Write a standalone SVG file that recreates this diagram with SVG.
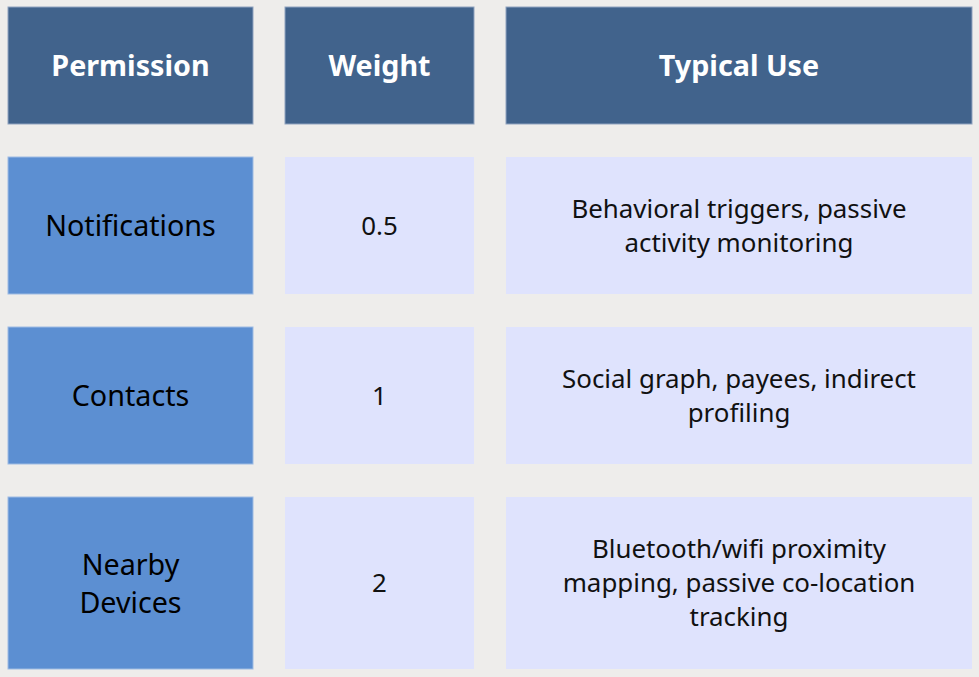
<svg xmlns="http://www.w3.org/2000/svg" width="979" height="677" viewBox="0 0 979 677">
<style>
.hd{fill:#41638c;stroke:#8fa3bf;stroke-width:1}
.c1{fill:#5c8fd2;stroke:#9dbbe3;stroke-width:1}
.lt{fill:#dfe3fd}
.ht{font-family:"Noto Sans","Open Sans",sans-serif;font-weight:bold;font-size:28.7px;fill:#ffffff;text-anchor:middle;dominant-baseline:central}
.t1{font-family:"Noto Sans","Open Sans",sans-serif;font-size:28.7px;fill:#000000;text-anchor:middle;dominant-baseline:central}
.t2{font-family:"Noto Sans","Open Sans",sans-serif;font-size:25.9px;fill:#111111;text-anchor:middle;dominant-baseline:central}
</style>
<rect width="979" height="677" fill="#eeedeb"/>
<g id="h1"><rect class="hd" x="8" y="7" width="245" height="117"/><text class="ht" x="130.5" y="64.5">Permission</text></g>
<g id="h2"><rect class="hd" x="285" y="7" width="189" height="117"/><text class="ht" x="379.5" y="64.5">Weight</text></g>
<g id="h3"><rect class="hd" x="506" y="7" width="466" height="117"/><text class="ht" x="739" y="64.5">Typical Use</text></g>

<g id="r1c1"><rect class="c1" x="8" y="157" width="245" height="137"/><text class="t1" x="130.5" y="224.5">Notifications</text></g>
<g id="r1c2"><rect class="lt" x="285" y="157" width="189" height="137"/><text class="t2" x="379.5" y="224.5">0.5</text></g>
<g id="r1c3"><rect class="lt" x="506" y="157" width="466" height="137"/><text class="t2" x="739" y="207.5">Behavioral triggers, passive</text><text class="t2" x="739" y="241.5">activity monitoring</text></g>

<g id="r2c1"><rect class="c1" x="8" y="327" width="245" height="137"/><text class="t1" x="130.5" y="394.5">Contacts</text></g>
<g id="r2c2"><rect class="lt" x="285" y="327" width="189" height="137"/><text class="t2" x="379.5" y="394.5">1</text></g>
<g id="r2c3"><rect class="lt" x="506" y="327" width="466" height="137"/><text class="t2" x="739" y="377.5">Social graph, payees, indirect</text><text class="t2" x="739" y="411.5">profiling</text></g>

<g id="r3c1"><rect class="c1" x="8" y="497" width="245" height="172"/><text class="t1" x="130.5" y="563.5">Nearby</text><text class="t1" x="130.5" y="601.5">Devices</text></g>
<g id="r3c2"><rect class="lt" x="285" y="497" width="189" height="172"/><text class="t2" x="379.5" y="581.5">2</text></g>
<g id="r3c3"><rect class="lt" x="506" y="497" width="466" height="172"/><text class="t2" x="739" y="547.5">Bluetooth/wifi proximity</text><text class="t2" x="739" y="581.5">mapping, passive co-location</text><text class="t2" x="739" y="615.5">tracking</text></g>
<g id="connectors"></g>
</svg>
